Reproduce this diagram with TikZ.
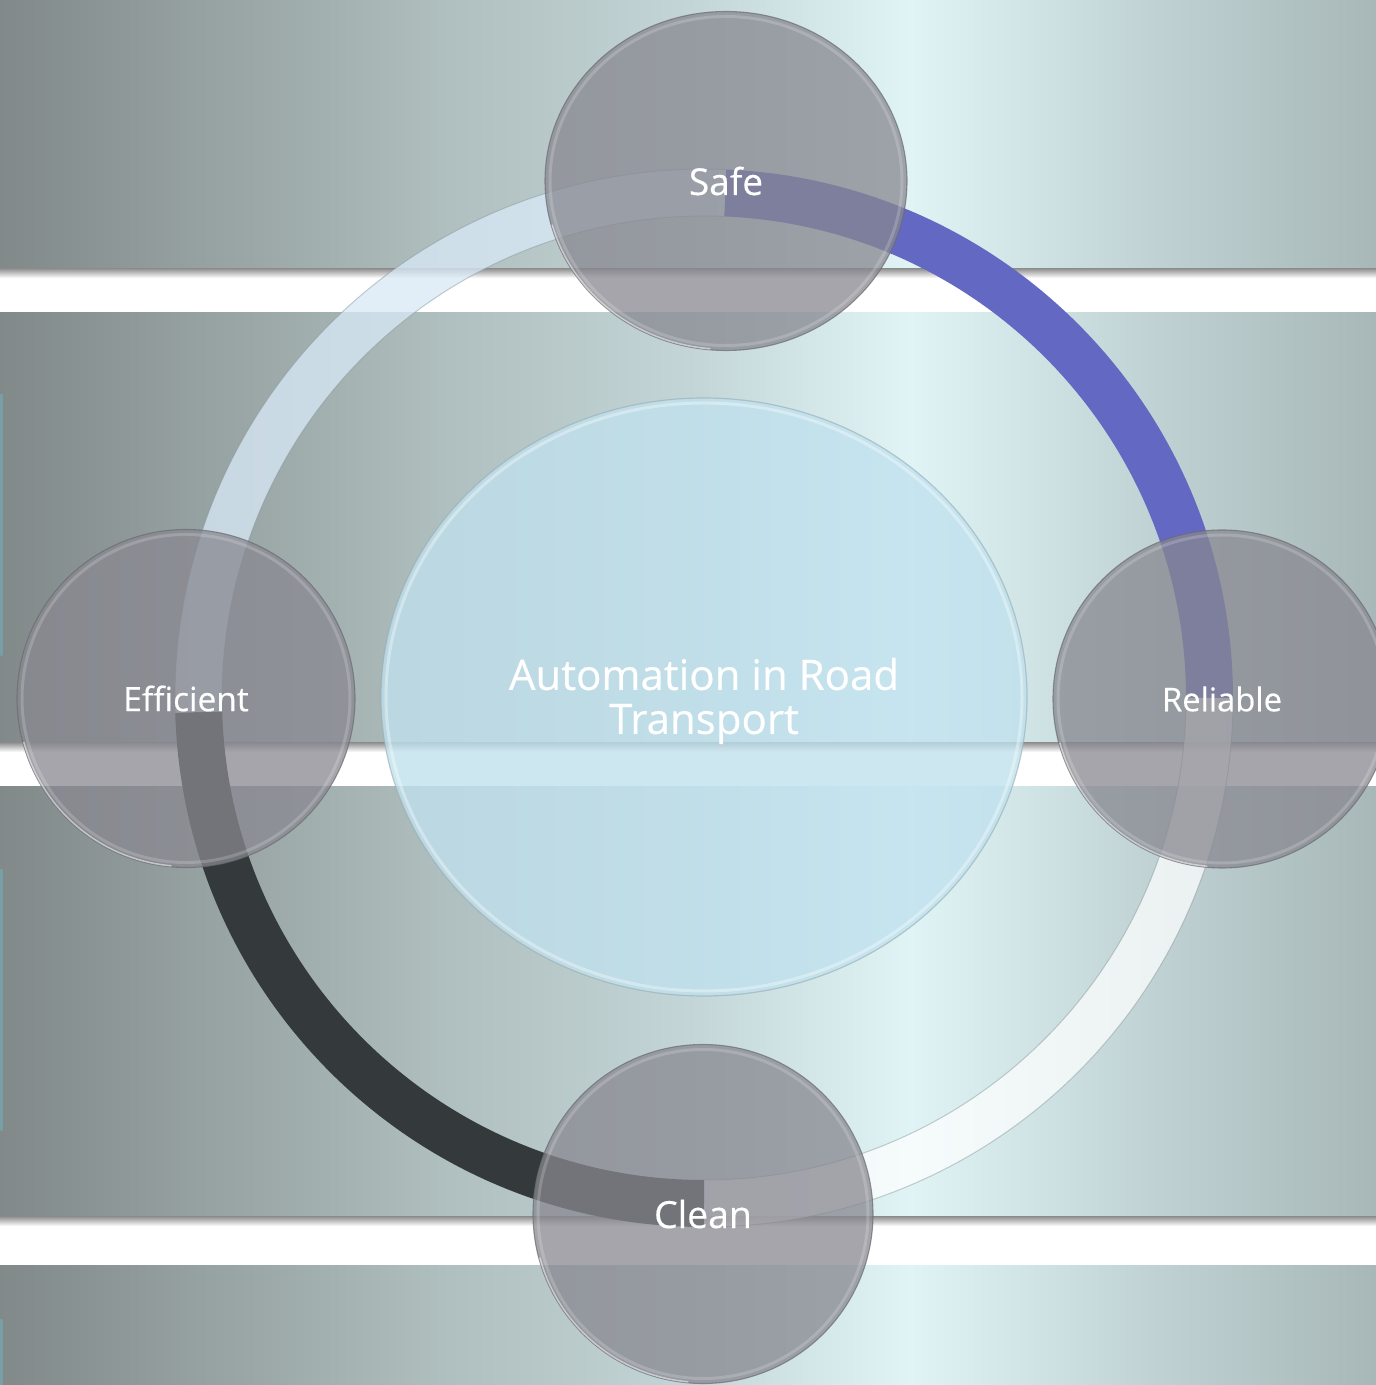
\documentclass[tikz,border=0pt]{standalone}
\usepackage{fontspec}
\setmainfont{Open Sans}[FakeBold=0.4]
\usetikzlibrary{shapes.geometric}
\definecolor{bg0}{RGB}{129,137,137}
\definecolor{bg1}{RGB}{176,191,191}
\definecolor{bg2}{RGB}{196,214,216}
\definecolor{bg3}{RGB}{224,244,246}
\definecolor{bg4}{RGB}{192,210,212}
\definecolor{bg5}{RGB}{168,184,184}
\definecolor{shadowgray}{RGB}{150,150,150}
\definecolor{blueseg}{RGB}{99,104,194}
\definecolor{darkseg}{RGB}{52,58,60}
\definecolor{paleblue}{RGB}{216,233,246}
\definecolor{segedge}{RGB}{130,145,150}
\definecolor{bubfill}{RGB}{136,136,144}
\definecolor{bubedge}{RGB}{105,107,114}
\definecolor{corefill}{RGB}{192,225,238}
\definecolor{coreedge}{RGB}{150,172,178}
\definecolor{edgeteal}{RGB}{118,160,166}
\pgfdeclarehorizontalshading{bgshade}{100bp}{color(0bp)=(bg0); color(25bp)=(bg0); color(41.35bp)=(bg1); color(50.4bp)=(bg2); color(58.07bp)=(bg3); color(66.8bp)=(bg4); color(75bp)=(bg5); color(100bp)=(bg5)}
\tikzset{
  bubble/.style={ellipse, inner sep=0pt, fill=bubfill, fill opacity=0.75,
    draw=bubedge, draw opacity=0.7, line width=1.1pt, text=white, text opacity=1},
  centerblob/.style={ellipse, inner sep=0pt, fill=corefill, fill opacity=0.78,
    draw=coreedge, draw opacity=0.6, line width=1.2pt},
  coretextstyle/.style={text=white, align=center, inner sep=0pt, font=\fontsize{42}{44}\selectfont},
  ringseg/.style={line width=47pt},
  segline/.style={draw=segedge, draw opacity=0.45, line width=1pt},
  rim/.style={white, opacity=0.18, line width=3pt},
  rimlow/.style={white, opacity=0.5, line width=1.6pt},
  artefact/.style={edgeteal, line width=3pt, line cap=round}
}
\begin{document}
\begin{tikzpicture}[x=1pt,y=1pt]
\useasboundingbox (0,0) rectangle (1376,1385);
% background bands
\shade[shading=bgshade] (0,0) rectangle (1376,1385);
\foreach \lo/\hi in {1073/1116, 599/642, 120/168} {
  \fill[white] (0,\lo) rectangle (1376,\hi);
  \shade[top color=shadowgray, bottom color=white] (0,\hi-9) rectangle (1376,\hi);
}
% left edge marks
\draw[artefact] (1.5,990) -- (1.5,730);
\draw[artefact] (1.5,515) -- (1.5,255);
\draw[artefact] (1.5,65) -- (1.5,-5);
% ring
\coordinate (rc) at (704,687);
\draw[ringseg, blueseg] (rc) ++(87.6:505.5) arc[start angle=87.6, end angle=0, radius=505.5];
\draw[ringseg, white, opacity=0.72] (rc) ++(0:505.5) arc[start angle=0, end angle=-90, radius=505.5];
\draw[ringseg, darkseg] (rc) ++(-90:505.5) arc[start angle=-90, end angle=-178.4, radius=505.5];
\draw[ringseg, paleblue, opacity=0.77] (rc) ++(181.6:505.5) arc[start angle=181.6, end angle=87.6, radius=505.5];
\draw[segline] (rc) ++(0:529) arc[start angle=0, end angle=-90, radius=529];
\draw[segline] (rc) ++(0:482) arc[start angle=0, end angle=-90, radius=482];
\draw[segline] (rc) ++(181.6:529) arc[start angle=181.6, end angle=87.6, radius=529];
\draw[segline] (rc) ++(181.6:482) arc[start angle=181.6, end angle=87.6, radius=482];
% centre
\node[centerblob, minimum width=646pt, minimum height=598pt] (core) at (704,688) {};
\draw[white, opacity=0.35, line width=3pt] (core.center) ellipse[x radius=318, y radius=294];
\node[coretextstyle] (coretext) at (704,684) {Automation in Road\\Transport};
% satellites
\node[bubble, minimum width=362pt, minimum height=339pt, font=\fontsize{37}{40}\selectfont] (safe) at (726,1204) {Safe};
\node[bubble, minimum width=338pt, minimum height=338pt, font=\fontsize{33.5}{36}\selectfont] (eff) at (186,686.5) {Efficient};
\node[bubble, minimum width=338pt, minimum height=338pt, font=\fontsize{32.7}{36}\selectfont] (rel) at (1222,686) {Reliable};
\node[bubble, minimum width=340pt, minimum height=339pt, font=\fontsize{37.4}{40}\selectfont] (clean) at (703,171) {Clean};
\foreach \n/\rx/\ry in {safe/181/169.5, eff/169/169, rel/169/169, clean/170/169.5} {
  \draw[rim] (\n.center) ellipse[x radius=\rx-5, y radius=\ry-5];
  \draw[rimlow] (\n.center) ++(195:{\rx-1} and {\ry-1}) arc[start angle=195, end angle=265, x radius=\rx-1, y radius=\ry-1];
}
\end{tikzpicture}
\end{document}
